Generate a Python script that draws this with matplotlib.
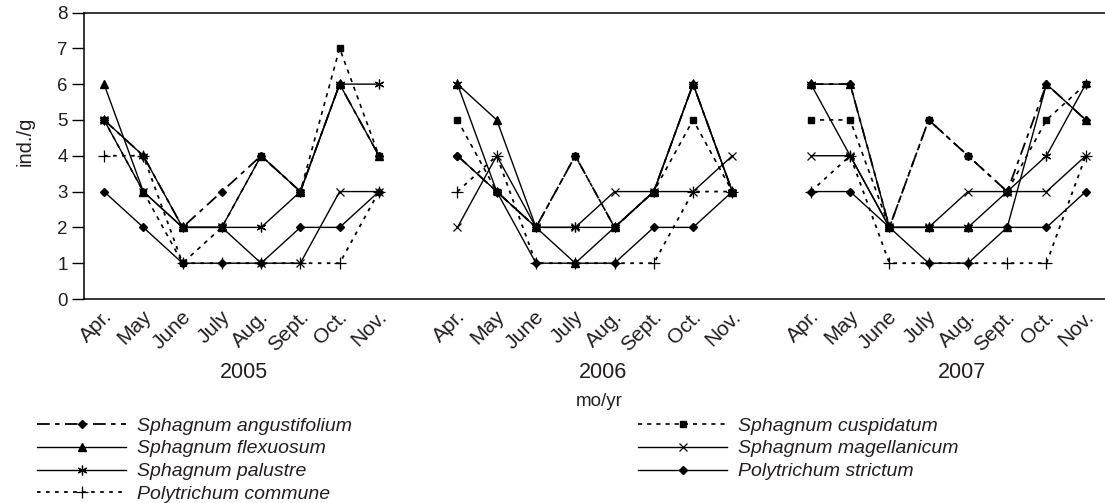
import numpy as np
import matplotlib.pyplot as plt
from matplotlib.transforms import blended_transform_factory, ScaledTranslation

plt.rcParams["font.family"] = ["Liberation Sans", "DejaVu Sans"]

months = ["Apr.", "May", "June", "July", "Aug.", "Sept.", "Oct.", "Nov."]
years = ["2005", "2006", "2007"]

# ind./g per month, Apr.-Nov. of 2005, 2006 and 2007
angustifolium = [5, 4, 2, 3, 4, 3, 6, 4,  4, 3, 2, 4, 2, 3, 6, 3,  6, 6, 2, 5, 4, 3, 6, 5]
cuspidatum    = [5, 3, 1, 2, 4, 3, 7, 4,  5, 3, 2, 4, 2, 3, 5, 3,  5, 5, 2, 5, 4, 3, 5, 6]
flexuosum     = [6, 3, 2, 2, 4, 3, 6, 4,  6, 5, 2, 1, 2, 3, 6, 3,  6, 6, 2, 2, 2, 2, 6, 5]
magellanicum  = [5, 3, 2, 2, 1, 1, 3, 3,  2, 4, 2, 2, 3, 3, 3, 4,  4, 4, 2, 2, 3, 3, 3, 4]
palustre      = [5, 4, 2, 2, 2, 3, 6, 6,  6, 3, 2, 2, 2, 3, 6, 3,  6, 4, 2, 2, 2, 3, 4, 6]
strictum      = [3, 2, 1, 1, 1, 2, 2, 3,  4, 3, 1, 1, 1, 2, 2, 3,  3, 3, 2, 1, 1, 2, 2, 3]
commune       = [4, 4, 1, 1, 1, 1, 1, 3,  3, 4, 1, 1, 1, 1, 3, 3,  3, 4, 1, 1, 1, 1, 1, 4]

n_slots = 9 * len(years) - 1   # one empty slot between years


def spread(vals):
    out = np.full(n_slots, np.nan)
    for i in range(len(years)):
        out[9 * i:9 * i + 8] = vals[8 * i:8 * i + 8]
    return out


asterisk = (6, 2, 0)
series = [
    ("Sphagnum angustifolium", angustifolium, dict(marker="D", ms=4.5, lw=1.3, dashes=(7, 3, 2.5, 3))),
    ("Sphagnum flexuosum", flexuosum, dict(marker="^", ms=5.5, lw=1.0, ls="-")),
    ("Sphagnum palustre", palustre, dict(marker=asterisk, ms=7, mew=0.9, lw=1.0, ls="-")),
    ("Polytrichum commune", commune, dict(marker="+", ms=8, mew=0.9, lw=1.3, dashes=(2, 3))),
    ("Sphagnum cuspidatum", cuspidatum, dict(marker="s", ms=4.5, lw=1.2, dashes=(2.5, 3))),
    ("Sphagnum magellanicum", magellanicum, dict(marker="x", ms=6, mew=0.9, lw=1.0, ls="-")),
    ("Polytrichum strictum", strictum, dict(marker="D", ms=4, lw=1.0, ls="-")),
]

txt = "#231f20"
fig = plt.figure(figsize=(11.05, 5.03), dpi=100)
ax = fig.add_axes([84.4 / 1105, 204 / 503, 1021 / 1105, 286.5 / 503])

x = np.arange(n_slots)
for name, vals, style in series:
    ax.plot(x, spread(vals), color="black", mfc="black", mec="black", label=name, **style)

ax.set_xlim(-0.5, n_slots - 0.5)
ax.set_ylim(0, 8)
ax.set_yticks(range(9))
ax.tick_params(axis="y", direction="out", length=9, width=1, colors="black",
               labelsize=13.5, labelcolor=txt, pad=3)

ticks = [9 * i + m for i in range(len(years)) for m in range(len(months))]
ax.set_xticks(ticks)
ax.set_xticklabels(months * len(years), rotation=45, ha="right", va="center",
                   rotation_mode="anchor", fontsize=15, color=txt)
ax.tick_params(axis="x", length=0, pad=12)
shift = ScaledTranslation(5 / 100, 2 / 100, fig.dpi_scale_trans)
for lab in ax.get_xticklabels():
    lab.set_transform(lab.get_transform() + shift)

for s in ["top", "left", "bottom"]:
    ax.spines[s].set_linewidth(1.1)
ax.spines["right"].set_visible(False)

ax.set_ylabel("ind./g", fontsize=14.5, color=txt)
ax.yaxis.set_label_coords(-0.049, 0.55)

trans = blended_transform_factory(ax.transData, fig.transFigure)
for i, yr in enumerate(years):
    ax.text(9 * i + 3.55 + 0.15 * i, 1 - 373 / 503, yr, transform=trans,
            ha="center", va="center", fontsize=15.5, color=txt)
ax.text(12.6, 1 - 401 / 503, "mo/yr", transform=trans, ha="center", va="center",
        fontsize=13.5, color=txt)

fig.legend(loc="upper left", bbox_to_anchor=(37 / 1105, 1 - 417 / 503), ncol=2,
           frameon=False, prop={"style": "italic", "size": 14},
           handlelength=4.6, handletextpad=0.55, columnspacing=14.7,
           labelspacing=0.27, borderpad=0, borderaxespad=0, numpoints=1,
           labelcolor=txt)

fig.savefig("out.png", dpi=100)
